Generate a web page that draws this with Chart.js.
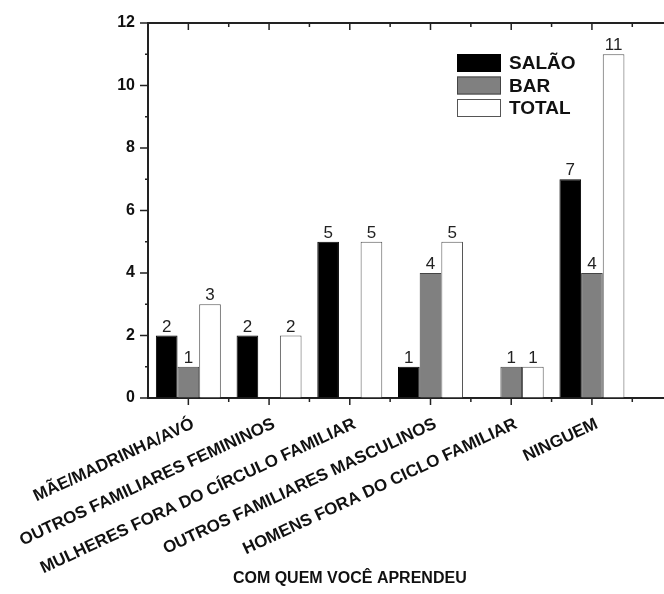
<!DOCTYPE html>
<html>
<head>
<meta charset="utf-8">
<script src="https://cdn.jsdelivr.net/npm/chart.js@4.4.1/dist/chart.umd.min.js"></script>
<style>
  html, body { margin: 0; padding: 0; background: #fff; overflow: hidden; }
  canvas { display: block; }
</style>
</head>
<body>
<canvas id="chart" width="720" height="594"></canvas>
<script>
// values
const categories = ["MÃE/MADRINHA/AVÓ", "OUTROS FAMILIARES FEMININOS", "MULHERES FORA DO CÍRCULO FAMILIAR",
                    "OUTROS FAMILIARES MASCULINOS", "HOMENS FORA DO CICLO FAMILIAR", "NINGUEM"];
const salao = [2, 2, 5, 1, 0, 7];
const bar = [1, 0, 0, 4, 1, 4];
const total = [3, 2, 5, 5, 1, 11];
const seriesNames = ["SALÃO", "BAR", "TOTAL"];
const yTicks = [0, 2, 4, 6, 8, 10, 12];
const xTitle = "COM QUEM VOCÊ APRENDEU";

const FONT = "'Liberation Sans', Arial, sans-serif";
const INK = "#222";

// the original axis runs on past the last group and gets cut off, so add one empty slot
const labels = categories.concat([""]);

// tick marks: majors/minors, outside on left and bottom, inside on top
const axisTicks = {
  id: "axisTicks",
  afterDatasetsDraw(chart) {
    const { ctx, chartArea: a, scales: { x, y } } = chart;
    ctx.save();
    ctx.strokeStyle = INK;
    ctx.lineWidth = 1.5;
    ctx.beginPath();
    y.ticks.forEach(t => {
      const py = y.getPixelForValue(t.value);
      const len = yTicks.includes(t.value) ? 8 : 3;
      ctx.moveTo(a.left - len, py);
      ctx.lineTo(a.left, py);
    });
    for (let i = 0; i < labels.length; i++) {
      const c = x.getPixelForValue(i);
      const b = x.getPixelForValue(i + 0.5);
      ctx.moveTo(c, a.bottom); ctx.lineTo(c, a.bottom + 7);
      ctx.moveTo(b, a.bottom); ctx.lineTo(b, a.bottom + 4);
      ctx.moveTo(c, a.top); ctx.lineTo(c, a.top + 7);
      ctx.moveTo(b, a.top); ctx.lineTo(b, a.top + 4);
    }
    ctx.stroke();
    // top frame line
    ctx.lineWidth = 2;
    ctx.beginPath();
    ctx.moveTo(a.left - 1, a.top);
    ctx.lineTo(a.right, a.top);
    ctx.stroke();
    ctx.restore();
  }
};

// numbers on top of the bars
const valueLabels = {
  id: "valueLabels",
  afterDatasetsDraw(chart) {
    const ctx = chart.ctx;
    ctx.save();
    ctx.fillStyle = INK;
    ctx.font = "17px " + FONT;
    ctx.textAlign = "center";
    ctx.textBaseline = "alphabetic";
    chart.data.datasets.forEach((ds, di) => {
      chart.getDatasetMeta(di).data.forEach((el, i) => {
        const v = ds.data[i];
        if (v > 0) ctx.fillText(String(v), el.x, el.y - 4);
      });
    });
    ctx.restore();
  }
};

// legend drawn inside the plot, top right
const boxLegend = {
  id: "boxLegend",
  afterDraw(chart) {
    const { ctx, chartArea: a } = chart;
    ctx.save();
    ctx.font = "bold 19px " + FONT;
    ctx.textBaseline = "middle";
    ctx.textAlign = "left";
    chart.data.datasets.forEach((ds, i) => {
      const bx = a.left + 309, by = a.top + 31 + i * 22.5;
      ctx.fillStyle = ds.backgroundColor;
      ctx.fillRect(bx, by, 44, 18);
      ctx.strokeStyle = ds.borderColor;
      ctx.lineWidth = 1;
      ctx.strokeRect(bx + 0.5, by + 0.5, 43, 17);
      ctx.fillStyle = "#111";
      ctx.fillText(ds.label, bx + 52, by + 10);
    });
    ctx.restore();
  }
};

// axis title, sits under the middle of the drawn groups
const axisTitle = {
  id: "axisTitle",
  afterDraw(chart) {
    const { ctx, scales: { x } } = chart;
    ctx.save();
    ctx.font = "bold 16px " + FONT;
    ctx.fillStyle = "#111";
    ctx.textAlign = "center";
    ctx.textBaseline = "middle";
    ctx.fillText(xTitle, x.getPixelForValue(2), 579);
    ctx.restore();
  }
};

const zeroless = ctx => (ctx.raw > 0 ? 1 : 0);

new Chart(document.getElementById("chart").getContext("2d"), {
  type: "bar",
  data: {
    labels: labels,
    datasets: [
      { label: seriesNames[0], data: salao, backgroundColor: "#000000", borderColor: "#000000", borderWidth: zeroless },
      { label: seriesNames[1], data: bar, backgroundColor: "#808080", borderColor: "#444444", borderWidth: zeroless },
      { label: seriesNames[2], data: total, backgroundColor: "#ffffff", borderColor: "#555555", borderWidth: zeroless }
    ]
  },
  options: {
    responsive: false,
    animation: false,
    devicePixelRatio: 1,
    layout: { padding: { top: 23, right: 7, left: 0, bottom: 0 } },
    datasets: { bar: { categoryPercentage: 0.805, barPercentage: 1.0 } },
    plugins: { legend: { display: false }, tooltip: { enabled: false } },
    scales: {
      x: {
        grid: { display: true, drawOnChartArea: false, drawTicks: false },
        border: { display: true, color: INK, width: 2 },
        ticks: {
          autoSkip: false, minRotation: 25, maxRotation: 25, padding: 16, labelOffset: 5,
          color: "#111", font: { family: FONT, size: 17, weight: "bold" }
        },
        afterFit: s => {
          s.height = 196;
          // long rotated labels may spill past the canvas edge, as in the original
          s.paddingLeft = 0;
          s.paddingRight = 0;
        }
      },
      y: {
        min: 0, max: 12,
        grid: { display: true, drawOnChartArea: false, drawTicks: false },
        border: { display: true, color: INK, width: 2 },
        ticks: {
          stepSize: 1, padding: 13, color: "#111",
          font: { family: FONT, size: 16, weight: "bold" },
          callback: v => (yTicks.includes(v) ? v : "")
        },
        afterFit: s => { s.width = 148; }
      }
    }
  },
  plugins: [axisTicks, valueLabels, boxLegend, axisTitle]
});
</script>
</body>
</html>
